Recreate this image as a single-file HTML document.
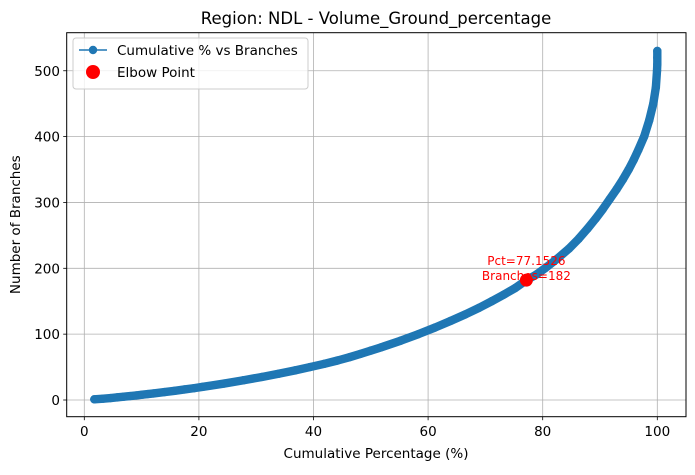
<!DOCTYPE html>
<html><head><meta charset="utf-8"><style>
body{margin:0;background:#fff;}
svg text{font-family:"DejaVu Sans","Liberation Sans",sans-serif;}
</style></head><body>
<svg id="chart" width="695" height="470" xmlns="http://www.w3.org/2000/svg">
<rect width="695" height="470" fill="#fff"/>
<g id="grid"></g>
<g id="series"></g>
<rect x="66.7" y="32.7" width="619.3" height="384" fill="none" stroke="#000" stroke-width="1"/>
<g id="ticks"></g>
<text x="376" y="24" font-size="16.5" text-anchor="middle">Region: NDL - Volume_Ground_percentage</text>
<text x="376" y="458" font-size="13.5" text-anchor="middle">Cumulative Percentage (%)</text>
<text transform="translate(20,224.7) rotate(-90)" font-size="13.5" text-anchor="middle">Number of Branches</text>
<g>
<rect x="73" y="38" width="235" height="51" rx="3" fill="#fff" fill-opacity="0.8" stroke="#ccc"/>
<g>
<line x1="79" y1="50" x2="107" y2="50" stroke="#1f77b4" stroke-width="1.5"/>
<circle cx="93" cy="50" r="4.2" fill="#1f77b4"/>
<text x="117" y="55" font-size="13.5">Cumulative % vs Branches</text>
</g>
<g>
<circle cx="93" cy="72" r="7" fill="#ff0000"/>
<text x="117" y="77" font-size="13.5">Elbow Point</text>
</g>
</g>
</svg>
<script>
const branches=[1,2,3,4,5,6,7,8,9,10,12,14,16,18,20,25,30,35,40,45,50,55,60,65,70,75,80,90,100,110,120,130,140,150,160,170,182,190,200,215,230,245,260,275,290,305,320,335,350,365,380,400,425,450,475,500,510,520,530];
const pcts=[1.75,3.3,4.6,5.8,6.9,8.0,9.1,10.1,11.1,12.1,14.0,15.8,17.5,19.2,20.7,24.4,27.8,31.0,34.0,36.8,39.4,41.9,44.2,46.3,48.2,50.0,51.8,55.2,58.3,61.2,63.9,66.5,68.9,71.1,73.2,75.2,77.15,78.8,80.4,82.6,84.6,86.3,87.8,89.2,90.5,91.7,92.9,94.0,95.0,95.9,96.7,97.7,98.6,99.3,99.75,99.95,100,100,100];
const xTicks=[0,20,40,60,80,100];
const yTicks=[0,100,200,300,400,500];
const elbowPct=[77.1526];
const elbowBranches=[182];
const NS="http://www.w3.org/2000/svg";
function X(v){return 84.3+v*5.73;}
function Y(v){return 400-v*0.6585;}
function mk(tag,attrs,parent){const e=document.createElementNS(NS,tag);for(const k in attrs)e.setAttribute(k,attrs[k]);parent.appendChild(e);return e;}
const grid=document.getElementById('grid'),ticks=document.getElementById('ticks'),series=document.getElementById('series');
xTicks.forEach(t=>{
 const g=mk('line',{x1:X(t),x2:X(t),y1:32.7,y2:416.7,stroke:'#b0b0b0','stroke-width':0.8},grid);
 
 
 mk('line',{x1:X(t),x2:X(t),y1:416.7,y2:420.2,stroke:'#000','stroke-width':0.8},ticks);
 const tx=mk('text',{x:X(t),y:436,'font-size':13.5,'text-anchor':'middle'},ticks);
 tx.textContent=t;
 
 
});
yTicks.forEach(t=>{
 const g=mk('line',{x1:66.7,x2:686,y1:Y(t),y2:Y(t),stroke:'#b0b0b0','stroke-width':0.8},grid);
 
 
 mk('line',{x1:63.2,x2:66.7,y1:Y(t),y2:Y(t),stroke:'#000','stroke-width':0.8},ticks);
 const tx=mk('text',{x:60,y:Y(t)+5,'font-size':13.5,'text-anchor':'end'},ticks);
 tx.textContent=t;
 
 
});
const pts=pcts.map((p,i)=>X(p)+','+Y(branches[i])).join(' ');
const band=mk('polyline',{points:pts,fill:'none',stroke:'#1f77b4','stroke-width':8.4,'stroke-linecap':'round','stroke-linejoin':'round'},series);


pcts.forEach((p,i)=>{
 const c=mk('circle',{cx:X(p),cy:Y(branches[i]),r:4.2,fill:'#1f77b4'},series);
 
 
});
elbowPct.forEach((p,i)=>{
 const c=mk('circle',{cx:X(p),cy:Y(elbowBranches[i]),r:6.5,fill:'#ff0000'},series);
 
 
 const t1=mk('text',{x:X(p),y:Y(elbowBranches[i])-15,'font-size':12,'text-anchor':'middle',fill:'#ff0000'},series);
 t1.textContent='Pct='+p.toFixed(4);
 
 
 const t2=mk('text',{x:X(p),y:Y(elbowBranches[i])+0,'font-size':12,'text-anchor':'middle',fill:'#ff0000'},series);
 t2.textContent='Branches='+elbowBranches[i];
 
 
});
</script>
</body></html>
